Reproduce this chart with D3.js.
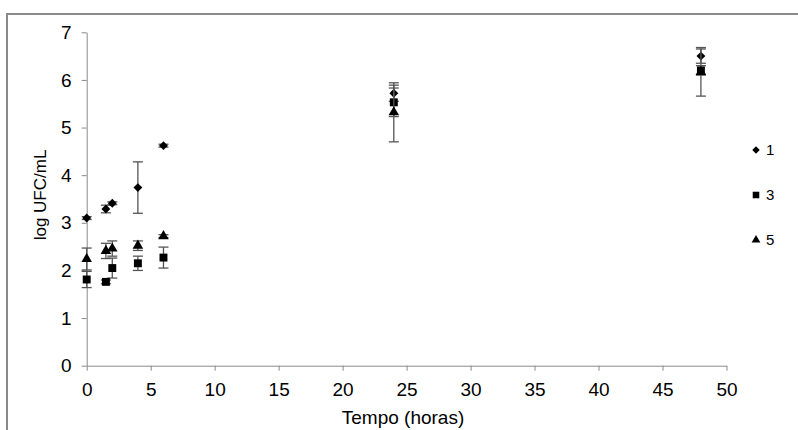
<!DOCTYPE html>
<html>
<head>
<meta charset="utf-8">
<script src="https://cdn.jsdelivr.net/npm/d3@7"></script>
<style>
  body { margin: 0; background: #fff; }
  text { font-family: "Liberation Sans", Arial, sans-serif; fill: #000; }
</style>
</head>
<body>
<div class="chart"></div>
<script>
var width = 798,
    height = 430;

// tempo (horas)
var times = [0, 1.5, 2, 4, 6, 24, 48];
// series values, log UFC/mL
var serie1 = [3.10, 3.29, 3.41, 3.74, 4.62, 5.72, 6.50];
var serie1Err = [0.03, 0.08, 0.03, 0.54, 0.03, 0.17, 0.15];
var serie3 = [1.81, 1.76, 2.05, 2.15, 2.27, 5.53, 6.20];
var serie3Err = [0.17, 0.04, 0.21, 0.15, 0.22, 0.30, 0.10];
var serie5 = [2.24, 2.41, 2.46, 2.52, 2.72, 5.32, 6.17];
var serie5Err = [0.23, 0.16, 0.16, 0.10, 0.03, 0.62, 0.51];
var seriesNames = ["1", "3", "5"];
var xTicks = [0, 5, 10, 15, 20, 25, 30, 35, 40, 45, 50];
var yTicks = [0, 1, 2, 3, 4, 5, 6, 7];

var series = [
  { name: seriesNames[0], values: serie1, err: serie1Err, shape: d3.symbolDiamond2 },
  { name: seriesNames[1], values: serie3, err: serie3Err, shape: d3.symbolSquare2 },
  { name: seriesNames[2], values: serie5, err: serie5Err, shape: d3.symbolTriangle2 }
];

var svg = d3.select(".chart").append("svg")
    .attr("width", width)
    .attr("height", height);

// outer frame of the chart area
svg.append("rect")
    .attr("x", 7).attr("y", 14)
    .attr("width", 800).attr("height", 430)
    .attr("fill", "none")
    .attr("stroke", "#8a8a8a")
    .attr("stroke-width", 2);

var x = d3.scaleLinear().domain([0, 50]).range([86.7, 726.5]);
var y = d3.scaleLinear().domain([0, 7]).range([365.7, 32.3]);

var xAxis = svg.append("g")
    .attr("transform", "translate(0," + y(0) + ")")
    .call(d3.axisBottom(x).tickValues(xTicks).tickFormat(d3.format("d"))
      .tickSize(5).tickSizeOuter(0).tickPadding(12));
var yAxis = svg.append("g")
    .attr("transform", "translate(" + x(0) + ",0)")
    .call(d3.axisLeft(y).tickValues(yTicks).tickFormat(d3.format("d"))
      .tickSize(5).tickSizeOuter(0).tickPadding(10));

[xAxis, yAxis].forEach(function(a) {
  a.select(".domain").attr("stroke", "#8a8a8a");
  a.selectAll(".tick line").attr("stroke", "#8a8a8a");
  a.selectAll(".tick text")
      .style("font-size", "19px")
      .style("font-family", "'Liberation Sans', Arial, sans-serif")
      .attr("fill", "#000");
});

svg.append("text")
    .attr("x", 403).attr("y", 424)
    .attr("text-anchor", "middle")
    .style("font-size", "19px")
    .text("Tempo (horas)");

svg.append("text")
    .attr("transform", "translate(46,195) rotate(-90)")
    .attr("text-anchor", "middle")
    .style("font-size", "17px")
    .text("log UFC/mL");

var plot = svg.append("g");

series.forEach(function(s) {
  var pts = times.map(function(t, i) { return { t: t, v: s.values[i], e: s.err[i] }; });
  var g = plot.append("g");

  var eb = g.selectAll(".err").data(pts).enter().append("g").attr("class", "err")
      .attr("stroke", "#555").attr("stroke-width", 1.3);
  eb.append("line")
      .attr("x1", function(d) { return x(d.t); }).attr("x2", function(d) { return x(d.t); })
      .attr("y1", function(d) { return y(d.v - d.e); }).attr("y2", function(d) { return y(d.v + d.e); });
  eb.append("line")
      .attr("x1", function(d) { return x(d.t) - 5; }).attr("x2", function(d) { return x(d.t) + 5; })
      .attr("y1", function(d) { return y(d.v - d.e); }).attr("y2", function(d) { return y(d.v - d.e); });
  eb.append("line")
      .attr("x1", function(d) { return x(d.t) - 5; }).attr("x2", function(d) { return x(d.t) + 5; })
      .attr("y1", function(d) { return y(d.v + d.e); }).attr("y2", function(d) { return y(d.v + d.e); });

  g.selectAll(".pt").data(pts).enter().append("path")
      .attr("class", "pt")
      .attr("d", d3.symbol().type(s.shape).size(s.shape === d3.symbolDiamond2 ? 50 : 80))
      .attr("transform", function(d) { return "translate(" + x(d.t) + "," + y(d.v) + ")"; })
      .attr("fill", "#000");
});

// legend
var legend = svg.append("g");
series.forEach(function(s, i) {
  var ly = 150 + i * 45;
  legend.append("path")
      .attr("d", d3.symbol().type(s.shape).size(s.shape === d3.symbolDiamond2 ? 36 : 55))
      .attr("transform", "translate(756," + ly + ")")
      .attr("fill", "#000");
  legend.append("text")
      .attr("x", 766).attr("y", ly + 5)
      .style("font-size", "15px")
      .attr("fill", "#222")
      .text(s.name);
});
</script>
</body>
</html>
